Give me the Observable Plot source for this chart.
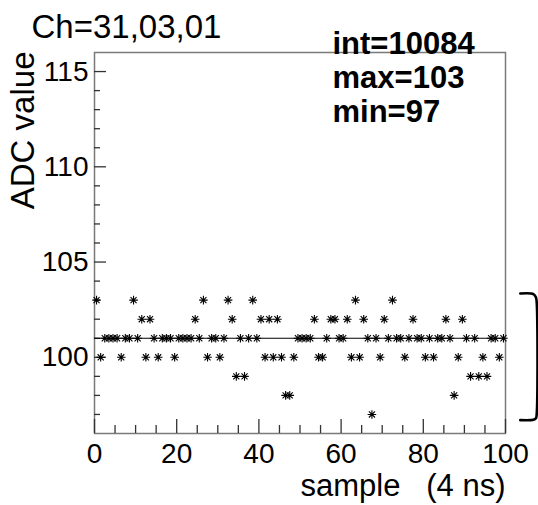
<!DOCTYPE html>
<html>
<head>
<meta charset="utf-8">
<script src="https://cdn.jsdelivr.net/npm/d3@7"></script>
<script src="https://cdn.jsdelivr.net/npm/@observablehq/plot@0.6"></script>
<style>
  html, body { margin: 0; padding: 0; background: #fff; }
  svg { display: block; }
</style>
</head>
<body>
<div id="chart"></div>
<script>
// ---- chart data ----
const titleText = "Ch=31,03,01";
const statsLines = ["int=10084", "max=103", "min=97"];
const xLabel = "sample\u00a0\u00a0\u00a0(4 ns)";
const yLabel = "ADC value";
const xTicks = [0, 20, 40, 60, 80, 100];
const xMinorTicks = [5, 10, 15, 25, 30, 35, 45, 50, 55, 65, 70, 75, 85, 90, 95];
const yTicks = [100, 105, 110, 115];
const yMinorTicks = [97, 98, 99, 101, 102, 103, 104, 106, 107, 108, 109, 111, 112, 113, 114];
// ADC value per sample (samples 0..99, drawn at bin centres)
const adcValues = [
  103, 100, 101, 101, 101, 101, 100, 101, 101, 103,
  101, 102, 100, 102, 101, 100, 101, 101, 101, 100,
  101, 101, 101, 101, 102, 101, 103, 100, 101, 101,
  100, 101, 103, 102,  99, 101,  99, 101, 103, 101,
  102, 100, 102, 100, 102, 100,  98,  98, 100, 101,
  101, 101, 101, 102, 100, 100, 101, 102, 102, 101,
  101, 102, 100, 103, 100, 102, 101,  97, 101, 100,
  102, 101, 103, 101, 101, 100, 101, 102, 101, 101,
  100, 101, 100, 101, 101, 102, 101,  98, 100, 102,
  101,  99, 101,  99, 100,  99, 101, 101, 100, 101
];
const baselineValue = [101];
// fragment of a neighbouring pad's bracket at the right edge
const bracketX = [103.6, 106.8, 107.4, 107.6, 107.6, 107.4, 106.8, 103.6];
const bracketY = [103.35, 103.32, 103.15, 102.85, 97.05, 96.8, 96.72, 96.7];

// ---- build ----
const points = adcValues.map((v, i) => ({x: i + 0.5, y: v}));
const bracket = bracketX.map((x, i) => ({x, y: bracketY[i]}));

const star = {
  draw(ctx, size) {
    const r = Math.sqrt(size / Math.PI);
    const d = r * Math.SQRT1_2;
    ctx.moveTo(-r, 0); ctx.lineTo(r, 0);
    ctx.moveTo(0, -r); ctx.lineTo(0, r);
    ctx.moveTo(-d, -d); ctx.lineTo(d, d);
    ctx.moveTo(-d, d); ctx.lineTo(d, -d);
  }
};

const font = "'Liberation Sans', Arial, Helvetica, sans-serif";

const chart = Plot.plot({
  width: 538,
  height: 505,
  marginLeft: 94,
  marginRight: 33,
  marginTop: 52,
  marginBottom: 72,
  style: {fontFamily: font, background: "#fff", overflow: "visible", color: "#000"},
  x: {domain: [0, 100], axis: null},
  y: {domain: [96, 116], axis: null},
  marks: [
    Plot.frame({stroke: "#7a7a7a", strokeWidth: 1.5}),
    // tick marks drawn inward
    Plot.axisY(yTicks, {tickSize: -12, text: null, stroke: "#333", strokeWidth: 1.3, label: null}),
    Plot.axisY(yMinorTicks, {tickSize: -6, text: null, stroke: "#333", strokeWidth: 1.3, label: null}),
    Plot.axisX(xTicks, {tickSize: -14, text: null, stroke: "#333", strokeWidth: 1.3, label: null}),
    Plot.axisX(xMinorTicks, {tickSize: -8, text: null, stroke: "#333", strokeWidth: 1.3, label: null}),
    // tick labels
    Plot.axisY(yTicks, {tickSize: 0, tickPadding: 6, fontSize: 28, label: null, fill: "#000"}),
    Plot.axisX(xTicks, {tickSize: 0, tickPadding: 10, fontSize: 28, label: null, fill: "#000"}),
    // baseline
    Plot.ruleY(baselineValue, {stroke: "#000", strokeWidth: 1.2}),
    // samples
    Plot.dot(points, {x: "x", y: "y", r: 4.3, symbol: star, fill: "none", stroke: "#000", strokeWidth: 1.1}),
    // bracket fragment
    Plot.line(bracket, {x: "x", y: "y", stroke: "#000", strokeWidth: 2.6, curve: "catmull-rom"}),
    // titles
    Plot.text([titleText], {frameAnchor: "top-left", dx: -63, dy: -38, textAnchor: "start", fontSize: 33, fill: "#000"}),
    Plot.text([statsLines.join("\n")], {frameAnchor: "top-left", dx: 238, dy: -23, textAnchor: "start", lineAnchor: "top", fontSize: 31, fontWeight: "bold", lineHeight: 1.1, fill: "#000"}),
    Plot.text([xLabel], {frameAnchor: "bottom-right", dx: 0, dy: 62, textAnchor: "end", fontSize: 31, fill: "#000"}),
    Plot.text([yLabel], {frameAnchor: "top-left", dx: -84, dy: -1, rotate: -90, textAnchor: "end", fontSize: 33, fill: "#000"})
  ]
});

document.getElementById("chart").appendChild(chart);
</script>
</body>
</html>
